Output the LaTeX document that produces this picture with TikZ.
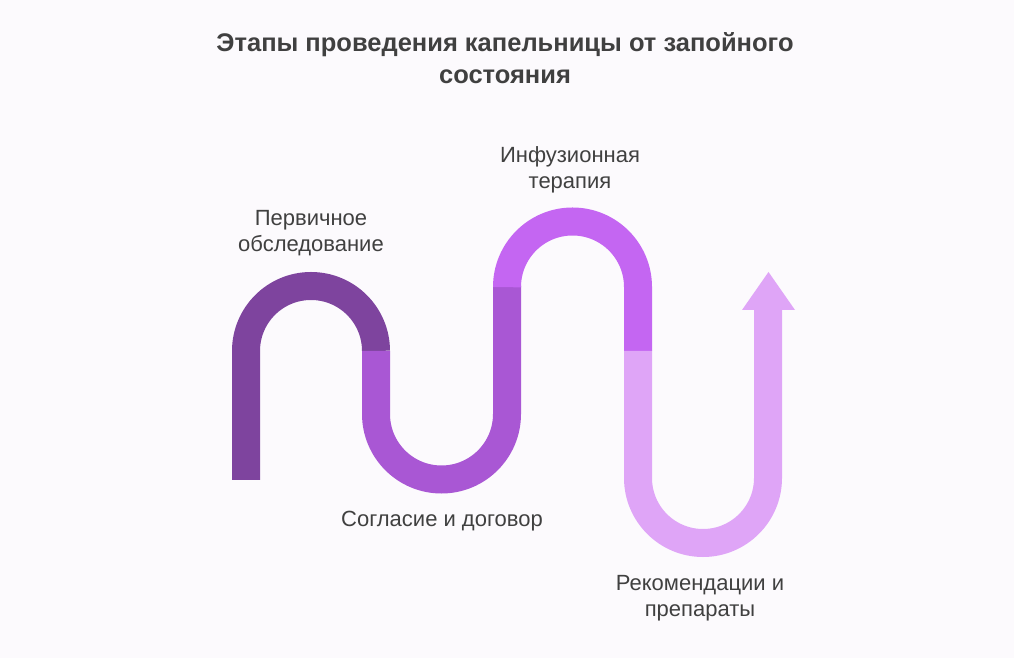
\documentclass[tikz,border=0pt]{standalone}
\usepackage{fontspec}
\setmainfont{Liberation Sans}
\definecolor{bgc}{HTML}{FCFAFD}
\definecolor{stA}{HTML}{7E449E}
\definecolor{stB}{HTML}{A957D4}
\definecolor{stC}{HTML}{C466F2}
\definecolor{stD}{HTML}{DFA5F7}
\definecolor{txt}{HTML}{404040}
\begin{document}
\begin{tikzpicture}[x=1pt,y=1pt]
	
	\tikzstyle{pipe}=[line width=28pt, line cap=butt]
	\tikzstyle{label}=[text=txt, font=\fontsize{22}{26}\selectfont, align=center]
	
	\fill[bgc] (0,0) rectangle (1014,658);
	\useasboundingbox (0,0) rectangle (1014,658);
	
	\node[text=txt, font=\bfseries\fontsize{25.5}{32}\selectfont, align=center] (title) at (505,600) {Этапы проведения капельницы от запойного\\состояния};
	
	\coordinate (s1) at (246,178);
	\coordinate (s2) at (376,307);
	\coordinate (s3) at (507,372);
	\coordinate (s4) at (638,307);
	\coordinate (tip) at (768,348);
	
	\draw[pipe, stA] (s1) -- (246,307) arc (180:0:65) -- (s2);
	\draw[pipe, stB] (s2) -- (376,244) arc (180:360:65.5) -- (s3);
	\draw[pipe, stC] (s3) -- (507,371) arc (180:0:65.5) -- (s4);
	\draw[pipe, stD] (s4) -- (638,180) arc (180:360:65) -- (tip);
	\fill[stD] (742,348) -- (795,348) -- (768.5,386) -- cycle;
	
	\node[label] (l1) at (311,425) {Первичное\\обследование};
	\node[label] (l2) at (442,137) {Согласие и договор};
	\node[label] (l3) at (570,488) {Инфузионная\\терапия};
	\node[label] (l4) at (700,60) {Рекомендации и\\препараты};
	
\end{tikzpicture}
\end{document}
